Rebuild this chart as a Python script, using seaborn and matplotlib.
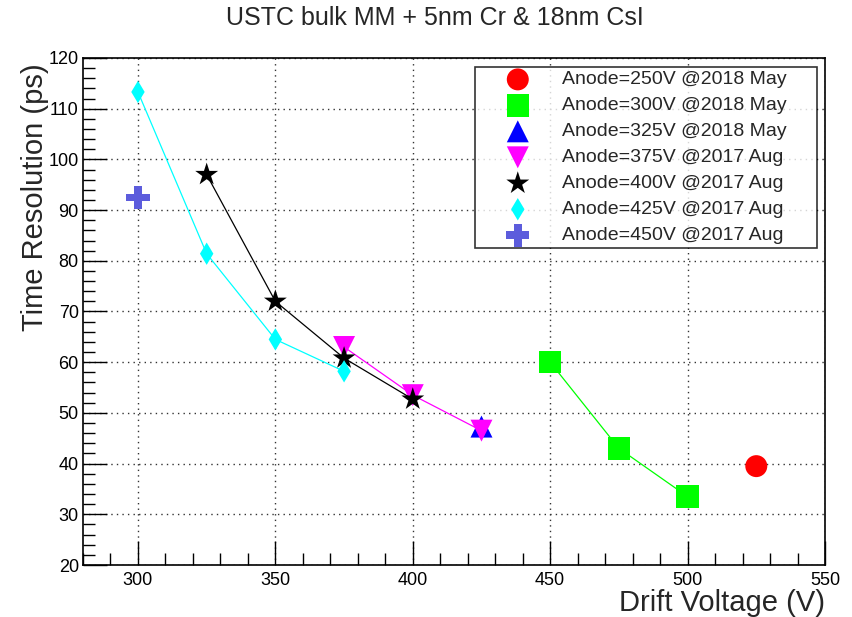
import numpy as np
import pandas as pd
import matplotlib
matplotlib.use("Agg")
import matplotlib.pyplot as plt
from matplotlib.ticker import MultipleLocator
import seaborn as sns

# Data (drift voltage in V, time resolution in ps)
drift_250 = [525]
res_250 = [39.5]
drift_300 = [450, 475, 500]
res_300 = [60.0, 43.0, 33.5]
drift_325 = [425]
res_325 = [47.3]
drift_375 = [375, 400, 425]
res_375 = [63.0, 53.5, 46.5]
drift_400 = [325, 350, 375, 400]
res_400 = [97.0, 72.0, 60.8, 52.7]
drift_425 = [300, 325, 350, 375]
res_425 = [113.3, 81.4, 64.5, 58.2]
drift_450 = [300]
res_450 = [92.5]

labels = ["Anode=250V @2018 May", "Anode=300V @2018 May", "Anode=325V @2018 May",
          "Anode=375V @2017 Aug", "Anode=400V @2017 Aug", "Anode=425V @2017 Aug",
          "Anode=450V @2017 Aug"]
colors = ["#ff0000", "#00ff00", "#0000ff", "#ff00ff", "#000000", "#00ffff", "#5c5cdc"]
markers = ["o", "s", "^", "v", "*", "d", "P"]
sizes = [250, 260, 250, 250, 300, 130, 280]

series = [(drift_250, res_250), (drift_300, res_300), (drift_325, res_325),
          (drift_375, res_375), (drift_400, res_400), (drift_425, res_425),
          (drift_450, res_450)]

sns.set_style("white")
plt.rcParams["font.family"] = ["Liberation Sans", "DejaVu Sans"]

fig = plt.figure(figsize=(8.52, 6.17), dpi=100)
ax = fig.add_axes([83 / 852, 52 / 617, 742 / 852, 507 / 617])

for i, (xs, ys) in enumerate(series):
    df = pd.DataFrame({"drift": xs, "res": ys})
    if len(xs) > 1:
        sns.lineplot(data=df, x="drift", y="res", color=colors[i], lw=0.9,
                     ax=ax, zorder=2 + i)
    sns.scatterplot(data=df, x="drift", y="res", marker=markers[i], s=sizes[i],
                    color=colors[i], edgecolor="none", label=labels[i],
                    ax=ax, zorder=3 + i)

ax.set_xlim(280, 550)
ax.set_ylim(20, 120)
ax.xaxis.set_major_locator(MultipleLocator(50))
ax.xaxis.set_minor_locator(MultipleLocator(10))
ax.yaxis.set_major_locator(MultipleLocator(10))
ax.yaxis.set_minor_locator(MultipleLocator(2))
ax.tick_params(which="major", direction="in", length=17, width=1, labelsize=13,
               color="black", labelcolor="black")
ax.tick_params(which="minor", direction="in", length=8.5, width=1, color="black")
ax.tick_params(axis="x", which="both", pad=5, bottom=True, top=False)
ax.tick_params(axis="y", which="both", pad=3, left=True, right=False)
ax.grid(True, which="major", linestyle=(0, (1, 3)), color="#333333", lw=1)
ax.grid(False, which="minor")
for sp in ax.spines.values():
    sp.set_color("black")
    sp.set_linewidth(1.2)

ax.set_xlabel("Drift Voltage (V)", fontsize=21, loc="right")
ax.xaxis.set_label_coords(1.0, -0.048)
ax.set_ylabel("Time Resolution (ps)", fontsize=21, loc="top")
ax.yaxis.set_label_coords(-0.046, 0.99)

fig.text(0.511, 0.971, "USTC bulk MM + 5nm Cr & 18nm CsI", fontsize=18,
         ha="center", va="center")

# legend box spans x 475..817 px, y 67..248 px
lx0 = (475 - 83) / 742
lx1 = (817 - 83) / 742
ly0 = (565 - 248) / 507
ly1 = (565 - 67) / 507
leg = ax.legend(loc="upper left", bbox_to_anchor=(lx0, ly0, lx1 - lx0, ly1 - ly0),
                mode="expand", borderaxespad=0, fontsize=14, frameon=True,
                fancybox=False, edgecolor="black", labelspacing=0.43,
                handletextpad=0.25, borderpad=0.2, handlelength=4.0)
leg.get_frame().set_linewidth(1.2)

fig.savefig("out.png", dpi=100, facecolor="white")
